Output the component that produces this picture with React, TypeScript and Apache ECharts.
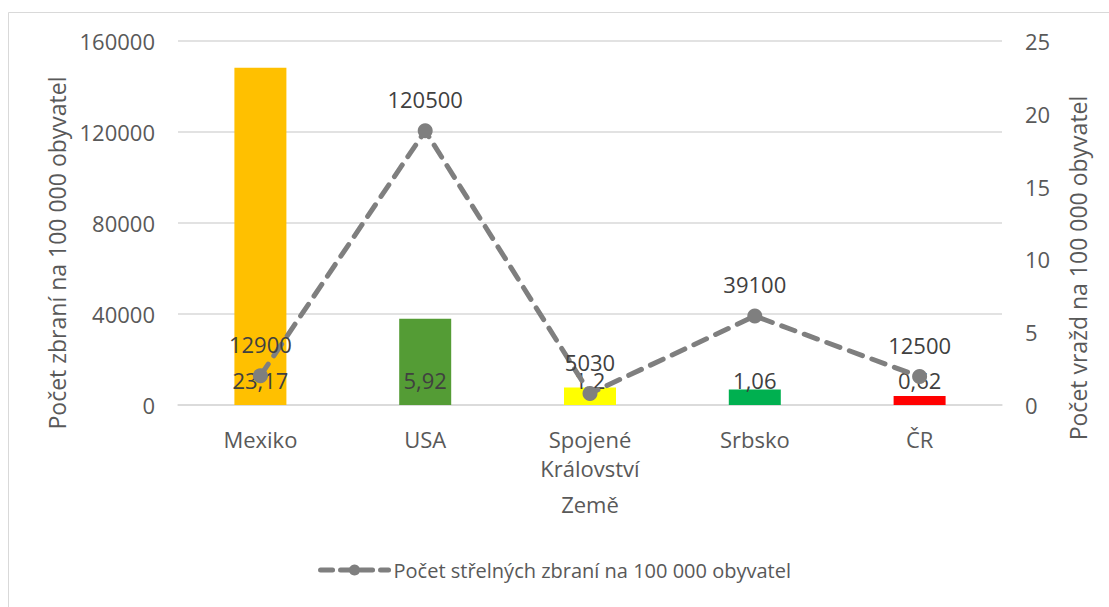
import React, { useEffect, useRef } from "react";
import * as echarts from "echarts";

const categories = ["Mexiko", "USA", "Spojené\nKrálovství", "Srbsko", "ČR"];
const murderRates = [23.17, 5.92, 1.2, 1.06, 0.62];
const gunsPer100k = [12900, 120500, 5030, 39100, 12500];
const barColors = ["#FFC000", "#549C35", "#FFFF00", "#00B050", "#FF0000"];
const leftTicks = { min: 0, max: 160000, interval: 40000 };
const rightTicks = { min: 0, max: 25, interval: 5 };

const FONT = "'Open Sans', 'Noto Sans', sans-serif";
const TXT = "#595959";
const FS = 22;

export default function App() {
  const ref = useRef<HTMLDivElement>(null);
  useEffect(() => {
    if (!ref.current) return;
    const chart = echarts.init(ref.current, undefined, { renderer: "svg" });
    chart.setOption({
      animation: false,
      backgroundColor: "#fff",
      textStyle: { fontFamily: FONT, color: TXT },
      graphic: [
        {
          type: "rect",
          shape: { x: 8.5, y: 12.5, width: 1200, height: 700 },
          style: { fill: "none", stroke: "#d9d9d9", lineWidth: 1 },
          silent: true,
        },
      ],
      grid: { left: 178, right: 107, top: 41, bottom: 202 },
      legend: {
        data: ["Počet střelných zbraní na 100 000 obyvatel"],
        bottom: 22,
        left: "center",
        itemWidth: 68,
        itemHeight: 14,
        itemGap: 6,
        lineStyle: { width: 5, type: [12, 8], cap: "round" },
        textStyle: { fontFamily: FONT, color: TXT, fontSize: 20 },
      },
      xAxis: {
        type: "category",
        data: categories,
        name: "Země",
        nameLocation: "middle",
        nameGap: 88,
        nameTextStyle: { fontFamily: FONT, color: TXT, fontSize: FS },
        axisLine: { lineStyle: { color: "#d9d9d9", width: 1.5 } },
        axisTick: { show: false },
        axisLabel: {
          fontFamily: FONT,
          color: TXT,
          fontSize: FS,
          margin: 19,
          lineHeight: 29,
        },
      },
      yAxis: [
        {
          type: "value",
          min: leftTicks.min,
          max: leftTicks.max,
          interval: leftTicks.interval,
          name: "Počet zbraní na 100 000 obyvatel",
          nameLocation: "middle",
          nameGap: 101,
          nameTextStyle: {
            fontFamily: FONT,
            color: TXT,
            fontSize: 23,
            padding: [0, 60, 0, 0],
          },
          axisLabel: {
            fontFamily: FONT,
            color: TXT,
            fontSize: FS,
            margin: 23,
            formatter: (v: number) => String(v),
          },
          splitLine: { lineStyle: { color: "#d9d9d9", width: 1.5 } },
          axisLine: { show: false },
          axisTick: { show: false },
        },
        {
          type: "value",
          min: rightTicks.min,
          max: rightTicks.max,
          interval: rightTicks.interval,
          name: "Počet vražd na 100 000 obyvatel",
          nameLocation: "middle",
          nameGap: 64,
          nameRotate: 90,
          nameTextStyle: {
            fontFamily: FONT,
            color: TXT,
            fontSize: 23,
            padding: [0, 90, 0, 0],
          },
          axisLabel: {
            fontFamily: FONT,
            color: TXT,
            fontSize: FS,
            margin: 23,
            formatter: (v: number) => String(v),
          },
          splitLine: { show: false },
          axisLine: { show: false },
          axisTick: { show: false },
        },
      ],
      series: [
        {
          name: "Počet vražd na 100 000 obyvatel",
          type: "bar",
          yAxisIndex: 1,
          barWidth: 52,
          data: murderRates.map((v, i) => ({
            value: v,
            itemStyle: { color: barColors[i] },
          })),
          label: {
            show: true,
            position: "insideBottom",
            distance: 17,
            fontFamily: FONT,
            fontSize: FS,
            lineHeight: 17,
            color: "#404040",
            formatter: (p: any) => String(p.value).replace(".", ","),
          },
          z: 2,
        },
        {
          name: "Počet střelných zbraní na 100 000 obyvatel",
          type: "line",
          yAxisIndex: 0,
          data: gunsPer100k,
          symbol: "circle",
          symbolSize: 15,
          itemStyle: { color: "#7f7f7f" },
          lineStyle: { color: "#7f7f7f", width: 5, type: [14, 10], cap: "round" },
          label: {
            show: true,
            position: "top",
            distance: 16,
            fontFamily: FONT,
            fontSize: FS,
            lineHeight: 17,
            color: "#404040",
          },
          z: 3,
        },
      ],
    });
    return () => chart.dispose();
  }, []);
  return (
    <div
      ref={ref}
      style={{ position: "fixed", left: 0, top: 0, width: 1109, height: 607 }}
    />
  );
}
